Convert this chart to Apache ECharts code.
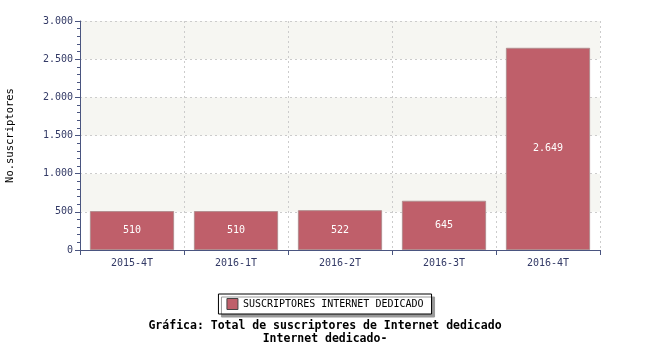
<!DOCTYPE html>
<html><head><meta charset="utf-8">
<script src="https://cdn.jsdelivr.net/npm/echarts@6/dist/echarts.min.js"></script>
<style>html,body{margin:0;padding:0;background:#fff}#c{width:650px;height:350px}</style>
</head><body><div id="c"></div>
<script>
const categories = ['2015-4T','2016-1T','2016-2T','2016-3T','2016-4T'];
const values = [510, 510, 522, 645, 2649];
const seriesName = 'SUSCRIPTORES INTERNET DEDICADO';
const yTitle = 'No.suscriptores';
const titleLines = ['Gráfica: Total de suscriptores de Internet dedicado', 'Internet dedicado-'];

const fmt = v => String(v).replace(/\B(?=(\d{3})+(?!\d))/g, '.');
const mono = '"DejaVu Sans Mono", monospace';
const axisCol = '#4a5580';
const chart = echarts.init(document.getElementById('c'), null, {renderer:'canvas'});
chart.setOption({
  animation: false,
  backgroundColor: '#fff',
  title: {
    text: titleLines.join('\n'), left: 'center', top: 315,
    textStyle: {fontFamily: mono, fontWeight: 'bold', fontSize: 11.5, color: '#000', lineHeight: 13}
  },
  legend: {
    data: [seriesName], top: 294, left: 'center',
    backgroundColor: '#fff', borderColor: '#000', borderWidth: 1,
    padding: [4, 8, 4, 8],
    shadowColor: '#999', shadowOffsetX: 3, shadowOffsetY: 3, shadowBlur: 0,
    itemWidth: 11, itemHeight: 11, icon: 'rect',
    itemStyle: {borderColor: '#444', borderWidth: 1},
    textStyle: {fontFamily: mono, fontSize: 10, color: '#000'}
  },
  grid: {left: 80, right: 50, top: 21, bottom: 100, containLabel: false, outerBoundsMode: 'none'},
  xAxis: {
    type: 'category', data: categories,
    axisLine: {lineStyle: {color: axisCol, width: 1}},
    axisTick: {show: true, length: 5, lineStyle: {color: axisCol}},
    axisLabel: {fontFamily: mono, fontSize: 10, color: '#333a66', margin: 8},
    splitLine: {show: true, lineStyle: {color: '#ccc', type: [2, 3]}}
  },
  yAxis: {
    type: 'value', min: 0, max: 3000, interval: 500,
    name: yTitle, nameLocation: 'middle', nameGap: 64,
    nameTextStyle: {fontFamily: mono, fontSize: 10.5, color: '#000'},
    axisLine: {show: true, lineStyle: {color: axisCol, width: 1}},
    axisTick: {show: true, length: 5, lineStyle: {color: axisCol}},
    minorTick: {show: true, splitNumber: 5, length: 3, lineStyle: {color: axisCol}},
    axisLabel: {fontFamily: mono, fontSize: 10, color: '#333a66', margin: 7, formatter: fmt},
    splitLine: {show: true, lineStyle: {color: '#ccc', type: [2, 3]}},
    splitArea: {show: true, areaStyle: {color: ['#ffffff', '#f6f6f2']}}
  },
  series: [{
    name: seriesName, type: 'bar', data: values, barWidth: '81%',
    itemStyle: {color: '#bf5f6a', borderColor: '#b38d8f', borderWidth: 1},
    label: {show: true, position: 'inside', color: '#fff', fontFamily: mono, fontSize: 10, formatter: p => fmt(p.value)}
  }]
});
</script></body></html>
